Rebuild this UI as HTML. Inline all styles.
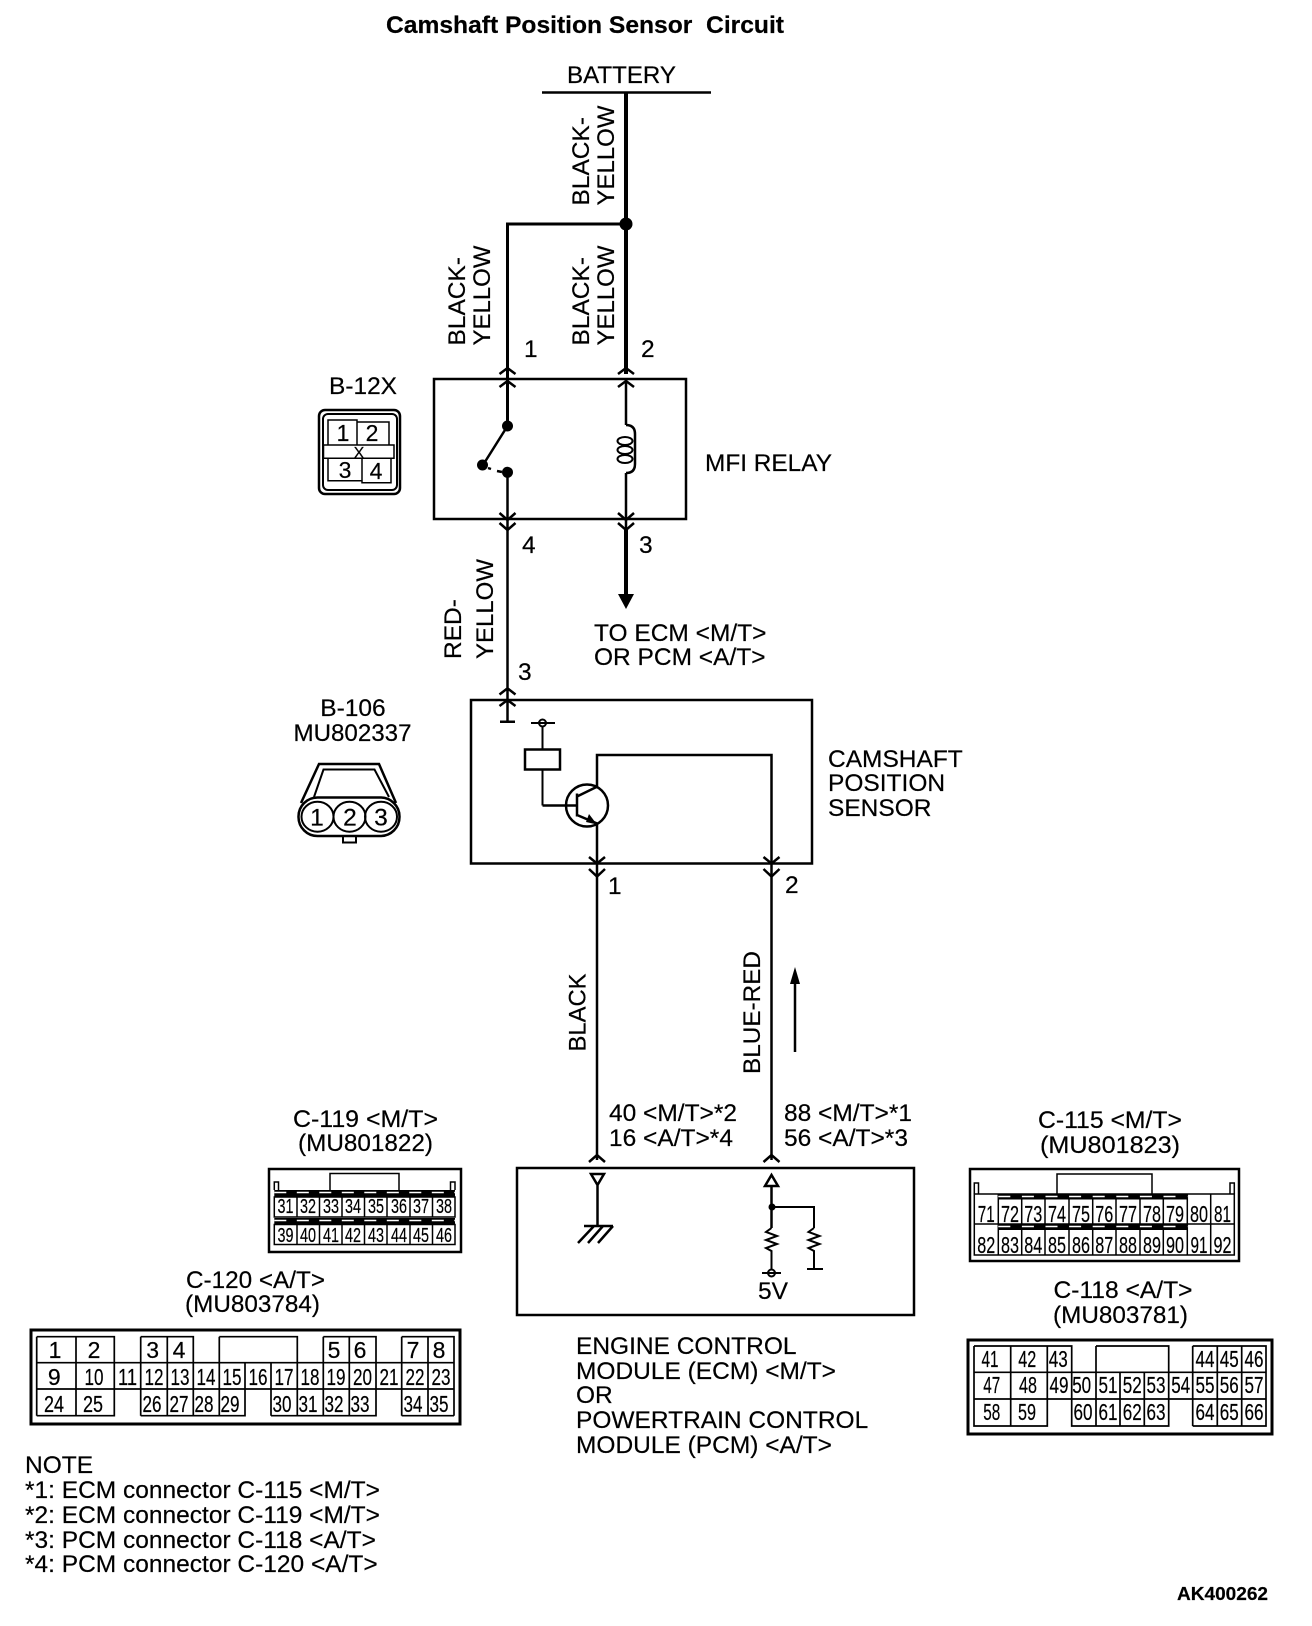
<!DOCTYPE html>
<html><head><meta charset="utf-8"><style>
html,body{margin:0;padding:0;background:#fff}
svg{display:block}
text{font-family:"Liberation Sans",sans-serif;font-size:24.5px;fill:#000;stroke:#000;stroke-width:.2}
.n text,text.m{text-anchor:middle}
.a text{font-size:23px}
.b text{font-size:23px}
.c text{font-size:20px}
.l{fill:none;stroke:#000;stroke-width:2.5}
.t{fill:none;stroke:#000;stroke-width:1.5}
.h{fill:none;stroke:#000;stroke-width:4}
</style></head><body>
<svg width="1312" height="1626" viewBox="0 0 1312 1626" xmlns="http://www.w3.org/2000/svg">
<rect width="1312" height="1626" fill="#fff"/>
<text x="386" y="33" style="font-weight:bold" textLength="398" lengthAdjust="spacingAndGlyphs" xml:space="preserve">Camshaft Position Sensor  Circuit</text>
<text x="567" y="83" textLength="109" lengthAdjust="spacingAndGlyphs">BATTERY</text>
<path class="l" d="M542 92.5H711"/>
<path class="h" d="M626 92V374"/>
<path class="l" style="stroke-width:3" d="M626 224H507.500V426"/>
<circle cx="626" cy="224" r="6.500"/>
<text transform="translate(589,205.500) rotate(-90)">BLACK-</text>
<text transform="translate(614,205.500) rotate(-90)" textLength="100" lengthAdjust="spacingAndGlyphs">YELLOW</text>
<text transform="translate(589,345.500) rotate(-90)">BLACK-</text>
<text transform="translate(614,345.500) rotate(-90)" textLength="100" lengthAdjust="spacingAndGlyphs">YELLOW</text>
<text transform="translate(465,345.500) rotate(-90)">BLACK-</text>
<text transform="translate(490,345.500) rotate(-90)" textLength="100" lengthAdjust="spacingAndGlyphs">YELLOW</text>
<text x="524" y="357">1</text><text x="641" y="357">2</text>
<!-- relay -->
<rect class="l" x="434" y="379" width="252" height="140"/>
<path class="l" d="M499.500 374L507.500 368L515.500 374M499.500 387L507.500 381L515.500 387M618 374L626 368L634 374M618 387L626 381L634 387"/>
<path class="l" d="M499.500 513L507.500 520L515.500 513M499.500 523L507.500 530L515.500 523M618 513L626 520L634 513M618 523L626 530L634 523"/>
<path class="l" d="M507.500 472V600M507.500 426L483 465"/>
<path class="l" d="M626 379V425M626 473V530"/>
<circle cx="507.500" cy="426" r="5.500"/><circle cx="507.500" cy="472.300" r="5.500"/><circle cx="482.500" cy="465" r="5.500"/>
<path class="l" d="M488 468L491 469M497 471L502 472"/>
<path class="l" d="M626 425C632 425 635 428 635 434V464C635 470 632 473 626 473"/>
<ellipse class="t" style="stroke-width:2" cx="625" cy="441" rx="7.500" ry="4"/>
<ellipse class="t" style="stroke-width:2" cx="625" cy="450" rx="7.500" ry="4"/>
<ellipse class="t" style="stroke-width:2" cx="625" cy="459" rx="7.500" ry="4"/>
<text x="705" y="471" textLength="127" lengthAdjust="spacingAndGlyphs">MFI RELAY</text>
<text x="522" y="553">4</text><text x="639" y="553">3</text>
<path class="h" d="M626 530V596"/>
<path d="M618 594H634L626 609Z"/>
<text x="594" y="641">TO ECM &lt;M/T&gt;</text><text x="594" y="665">OR PCM &lt;A/T&gt;</text>
<!-- B-12X -->
<text x="329" y="394" textLength="68" lengthAdjust="spacingAndGlyphs">B-12X</text>
<rect class="l" x="319" y="410" width="81" height="84" rx="6"/>
<rect class="l" style="stroke-width:2" x="323" y="414" width="74" height="76" rx="5"/>
<path class="t" d="M328 420H357V445H328ZM357 422H389V445H357ZM323.500 445H394V458.300H323.500ZM328 458.300H362V480.700H328ZM362 458.300H391V482.700H362Z"/>
<g class="n"><text x="343" y="441" style="font-size:23px">1</text><text x="372" y="441" style="font-size:23px">2</text><text x="359" y="458" style="font-size:16px">X</text><text x="345" y="478" style="font-size:23px">3</text><text x="376" y="479" style="font-size:23px">4</text></g>
<!-- red yellow -->
<text transform="translate(461,659) rotate(-90)">RED-</text>
<text transform="translate(493,659) rotate(-90)" textLength="100" lengthAdjust="spacingAndGlyphs">YELLOW</text>
<text x="518" y="680">3</text>
<!-- sensor -->
<rect class="l" x="471" y="700" width="341" height="163.500"/>
<path class="l" d="M499.500 694.500L507.500 688.300L515.500 694.500M499.500 706L507.500 700L515.500 706M507.500 600V721.700M500 721.700H515"/>
<circle class="l" style="stroke-width:2" cx="542.500" cy="723" r="3.500"/>
<path class="l" style="stroke-width:2" d="M531 723H555M542.500 727V749M542.500 769V805.500"/>
<rect class="l" x="525" y="749.500" width="35" height="20"/>
<path class="l" d="M542.500 805.500H577M577 793.500V816.500M577 796.500L597 786.700V755H771.500V1160M577 815L597 823.500V1160"/>
<path d="M597 824.500L586 822L589 814Z"/>
<circle class="l" cx="587" cy="805.500" r="21"/>
<path class="l" d="M589 857L597 863.500L605 857M589 869L597 876.500L605 869M763.500 857L771.500 863.500L779.500 857M763.500 869L771.500 876.500L779.500 869"/>
<text x="828" y="767">CAMSHAFT</text><text x="828" y="791">POSITION</text><text x="828" y="816">SENSOR</text>
<text x="608" y="894">1</text><text x="785" y="893">2</text>
<!-- B-106 -->
<g class="n"><text x="353" y="716">B-106</text><text x="352.500" y="741" textLength="118" lengthAdjust="spacingAndGlyphs">MU802337</text></g>
<path class="l" d="M301 803L319 764H379L396 803"/>
<path class="l" style="stroke-width:2" d="M314 797L323.500 769.500H374.500L389 797"/>
<rect class="l" x="298.500" y="797.500" width="101" height="38.500" rx="19"/>
<ellipse class="l" style="stroke-width:2" cx="317.500" cy="816.700" rx="16" ry="15"/>
<ellipse class="l" style="stroke-width:2" cx="349.500" cy="816.700" rx="16" ry="15"/>
<ellipse class="l" style="stroke-width:2" cx="381" cy="816.700" rx="16" ry="15"/>
<rect class="t" style="stroke-width:2" x="343" y="836" width="13" height="6.500"/>
<g class="n"><text x="317" y="825.500">1</text><text x="350" y="825.500">2</text><text x="381" y="825.500">3</text></g>
<!-- wires labels -->
<text transform="translate(585.500,1051.500) rotate(-90)" textLength="78" lengthAdjust="spacingAndGlyphs">BLACK</text>
<text transform="translate(760,1074) rotate(-90)" textLength="123" lengthAdjust="spacingAndGlyphs">BLUE-RED</text>
<path class="l" d="M795 975V1052"/><path d="M795 967L800 984H790Z"/>
<text x="609" y="1121">40 &lt;M/T&gt;*2</text><text x="609" y="1146">16 &lt;A/T&gt;*4</text>
<text x="784" y="1121">88 &lt;M/T&gt;*1</text><text x="784" y="1146">56 &lt;A/T&gt;*3</text>
<path class="l" d="M589 1162L597 1155L605 1162M763.500 1162L771.500 1155L779.500 1162"/>
<!-- ECM -->
<rect class="l" x="517" y="1168" width="397" height="147"/>
<path class="l" d="M591 1174H604L597.500 1185ZM597.500 1185V1225M584 1226H613M594 1226L578 1243M603 1226L588 1243M613 1226L598 1243"/>
<path class="l" d="M765 1186H778L771.500 1175ZM771.500 1186V1228"/>
<path class="l" style="stroke-width:2" d="M772 1207H814V1228"/>
<circle cx="772" cy="1207" r="3.500"/>
<path class="l" style="stroke-width:2" d="M771.500 1228L766 1232L777 1236L766 1240L777 1244L766 1248L771.500 1251V1270M814 1228L808.500 1232L819.500 1236L808.500 1240L819.500 1244L808.500 1248L814 1251V1268M807 1269H823M762 1273H781"/>
<circle class="t" cx="771.500" cy="1273" r="3.500" style="stroke-width:2"/>
<text class="m" x="773" y="1299">5V</text>
<g><text x="576" y="1354">ENGINE CONTROL</text><text x="576" y="1379">MODULE (ECM) &lt;M/T&gt;</text><text x="576" y="1403">OR</text><text x="576" y="1428">POWERTRAIN CONTROL</text><text x="576" y="1453">MODULE (PCM) &lt;A/T&gt;</text></g>
<!-- C-119 -->
<g class="n"><text x="365.500" y="1127" textLength="145" lengthAdjust="spacingAndGlyphs">C-119 &lt;M/T&gt;</text><text x="365.500" y="1151" textLength="135" lengthAdjust="spacingAndGlyphs">(MU801822)</text></g>
<rect class="l" x="269" y="1169" width="192" height="83"/>
<path class="t" d="M330 1190V1173.500H399V1190M274.300 1190V1182H278.500V1190M450.500 1190V1182H455V1190"/>
<path d="M274.300 1190H455V1197H274.300ZM274.300 1218H455V1224.500H274.300Z"/>
<path d="M274.300 1192.500H455M274.300 1220.500H455" stroke="#fff" stroke-width="1.500" stroke-dasharray="12 10.500"/>
<path class="t" d="M274.300 1197H455V1217H274.300ZM274.300 1224.500H455V1244.500H274.300ZM297 1197V1217M319.500 1197V1217M342 1197V1217M364.500 1197V1217M387 1197V1217M410 1197V1217M432.500 1197V1217M297 1224.500V1244.500M319.500 1224.500V1244.500M342 1224.500V1244.500M364.500 1224.500V1244.500M387 1224.500V1244.500M410 1224.500V1244.500M432.500 1224.500V1244.500"/>
<g class="n c">
<text x="285.500" y="1213" textLength="16" lengthAdjust="spacingAndGlyphs">31</text><text x="308" y="1213" textLength="16" lengthAdjust="spacingAndGlyphs">32</text><text x="331" y="1213" textLength="16" lengthAdjust="spacingAndGlyphs">33</text><text x="353" y="1213" textLength="16" lengthAdjust="spacingAndGlyphs">34</text><text x="376" y="1213" textLength="16" lengthAdjust="spacingAndGlyphs">35</text><text x="399" y="1213" textLength="16" lengthAdjust="spacingAndGlyphs">36</text><text x="421" y="1213" textLength="16" lengthAdjust="spacingAndGlyphs">37</text><text x="444" y="1213" textLength="16" lengthAdjust="spacingAndGlyphs">38</text>
<text x="285.500" y="1242" textLength="16" lengthAdjust="spacingAndGlyphs">39</text><text x="308" y="1242" textLength="16" lengthAdjust="spacingAndGlyphs">40</text><text x="331" y="1242" textLength="16" lengthAdjust="spacingAndGlyphs">41</text><text x="353" y="1242" textLength="16" lengthAdjust="spacingAndGlyphs">42</text><text x="376" y="1242" textLength="16" lengthAdjust="spacingAndGlyphs">43</text><text x="399" y="1242" textLength="16" lengthAdjust="spacingAndGlyphs">44</text><text x="421" y="1242" textLength="16" lengthAdjust="spacingAndGlyphs">45</text><text x="444" y="1242" textLength="16" lengthAdjust="spacingAndGlyphs">46</text>
</g>
<!-- C-120 -->
<g class="n"><text x="255.500" y="1288" textLength="139" lengthAdjust="spacingAndGlyphs">C-120 &lt;A/T&gt;</text><text x="252.500" y="1312" textLength="135" lengthAdjust="spacingAndGlyphs">(MU803784)</text></g>
<rect class="l" style="stroke-width:3" x="31" y="1330" width="429" height="94"/>
<path class="t" style="stroke-width:1.700" d="M36.700 1336.700H114.300V1362.700M140.700 1336.700H193.300V1362.700M219.300 1336.700H297.300V1362.700M323.300 1336.700H376V1362.700M401.700 1336.700H454V1415.700M36.700 1336.700V1415.700M76 1336.700V1415.700M140.700 1336.700V1415.700M167.300 1336.700V1415.700M219.300 1336.700V1415.700M323.300 1336.700V1415.700M349.300 1336.700V1415.700M401.700 1336.700V1415.700M428 1336.700V1415.700M36.700 1362.700H454M36.700 1389H454M36.700 1415.700H114.300V1389M140.700 1415.700H245V1362.700M271 1415.700H376V1362.700M401.700 1415.700H454M114.300 1362.700V1389M193.300 1362.700V1415.700M297.300 1362.700V1415.700M271 1362.700V1415.700M376 1362.700V1415.700"/>
<g class="n a">
<text x="55" y="1358">1</text><text x="94" y="1358">2</text><text x="152.700" y="1358">3</text><text x="179" y="1358">4</text><text x="334" y="1358">5</text><text x="360" y="1358">6</text><text x="413" y="1358">7</text><text x="439" y="1358">8</text>
<text x="54.300" y="1385">9</text><text x="94" y="1385" textLength="19" lengthAdjust="spacingAndGlyphs">10</text><text x="127.500" y="1385" textLength="19" lengthAdjust="spacingAndGlyphs">11</text><text x="154" y="1385" textLength="19" lengthAdjust="spacingAndGlyphs">12</text><text x="180" y="1385" textLength="19" lengthAdjust="spacingAndGlyphs">13</text><text x="206" y="1385" textLength="19" lengthAdjust="spacingAndGlyphs">14</text><text x="232" y="1385" textLength="19" lengthAdjust="spacingAndGlyphs">15</text><text x="258" y="1385" textLength="19" lengthAdjust="spacingAndGlyphs">16</text><text x="284" y="1385" textLength="19" lengthAdjust="spacingAndGlyphs">17</text><text x="310" y="1385" textLength="19" lengthAdjust="spacingAndGlyphs">18</text><text x="336" y="1385" textLength="19" lengthAdjust="spacingAndGlyphs">19</text><text x="362.500" y="1385" textLength="19" lengthAdjust="spacingAndGlyphs">20</text><text x="389" y="1385" textLength="19" lengthAdjust="spacingAndGlyphs">21</text><text x="415" y="1385" textLength="19" lengthAdjust="spacingAndGlyphs">22</text><text x="441" y="1385" textLength="19" lengthAdjust="spacingAndGlyphs">23</text>
<text x="54" y="1412" textLength="20" lengthAdjust="spacingAndGlyphs">24</text><text x="93" y="1412" textLength="20" lengthAdjust="spacingAndGlyphs">25</text><text x="152" y="1412" textLength="19" lengthAdjust="spacingAndGlyphs">26</text><text x="179" y="1412" textLength="19" lengthAdjust="spacingAndGlyphs">27</text><text x="204" y="1412" textLength="19" lengthAdjust="spacingAndGlyphs">28</text><text x="230" y="1412" textLength="19" lengthAdjust="spacingAndGlyphs">29</text><text x="282" y="1412" textLength="19" lengthAdjust="spacingAndGlyphs">30</text><text x="308" y="1412" textLength="19" lengthAdjust="spacingAndGlyphs">31</text><text x="334" y="1412" textLength="19" lengthAdjust="spacingAndGlyphs">32</text><text x="360" y="1412" textLength="19" lengthAdjust="spacingAndGlyphs">33</text><text x="413" y="1412" textLength="19" lengthAdjust="spacingAndGlyphs">34</text><text x="439" y="1412" textLength="19" lengthAdjust="spacingAndGlyphs">35</text>
</g>
<!-- C-115 -->
<g class="n"><text x="1110" y="1128" textLength="144" lengthAdjust="spacingAndGlyphs">C-115 &lt;M/T&gt;</text><text x="1110" y="1153" textLength="140" lengthAdjust="spacingAndGlyphs">(MU801823)</text></g>
<rect class="l" x="970" y="1169" width="269" height="92"/>
<path class="t" d="M1057 1194V1174H1152V1194M974.300 1194V1183H978.500V1194M1230 1194V1183H1234.300V1194"/>
<path class="t" d="M974.300 1194H1234.300V1255H974.300ZM974.300 1224H1234.300M998.300 1194V1255M1021.700 1199V1224M1021.700 1230V1255M1045 1199V1224M1045 1230V1255M1069 1199V1224M1069 1230V1255M1092.700 1199V1224M1092.700 1230V1255M1116 1199V1224M1116 1230V1255M1140 1199V1224M1140 1230V1255M1163.300 1199V1224M1163.300 1230V1255M1187.300 1194V1255M1210.700 1194V1255"/>
<path d="M998.300 1194H1187.300V1199.500H998.300ZM998.300 1224H1187.300V1230H998.300Z"/>
<path d="M998.300 1196.500H1187.300M998.300 1226.500H1187.300" stroke="#fff" stroke-width="1.500" stroke-dasharray="12 11.600"/>
<g class="n b">
<text x="986.300" y="1222" textLength="17" lengthAdjust="spacingAndGlyphs">71</text><text x="1010" y="1222" textLength="18" lengthAdjust="spacingAndGlyphs">72</text><text x="1033.300" y="1222" textLength="18" lengthAdjust="spacingAndGlyphs">73</text><text x="1057" y="1222" textLength="18" lengthAdjust="spacingAndGlyphs">74</text><text x="1081" y="1222" textLength="18" lengthAdjust="spacingAndGlyphs">75</text><text x="1104.300" y="1222" textLength="18" lengthAdjust="spacingAndGlyphs">76</text><text x="1128" y="1222" textLength="18" lengthAdjust="spacingAndGlyphs">77</text><text x="1152" y="1222" textLength="18" lengthAdjust="spacingAndGlyphs">78</text><text x="1175" y="1222" textLength="18" lengthAdjust="spacingAndGlyphs">79</text><text x="1199" y="1222" textLength="18" lengthAdjust="spacingAndGlyphs">80</text><text x="1222.500" y="1222" textLength="17" lengthAdjust="spacingAndGlyphs">81</text>
<text x="986.300" y="1253" textLength="18" lengthAdjust="spacingAndGlyphs">82</text><text x="1010" y="1253" textLength="18" lengthAdjust="spacingAndGlyphs">83</text><text x="1033.300" y="1253" textLength="18" lengthAdjust="spacingAndGlyphs">84</text><text x="1057" y="1253" textLength="18" lengthAdjust="spacingAndGlyphs">85</text><text x="1081" y="1253" textLength="18" lengthAdjust="spacingAndGlyphs">86</text><text x="1104.300" y="1253" textLength="18" lengthAdjust="spacingAndGlyphs">87</text><text x="1128" y="1253" textLength="18" lengthAdjust="spacingAndGlyphs">88</text><text x="1152" y="1253" textLength="18" lengthAdjust="spacingAndGlyphs">89</text><text x="1175" y="1253" textLength="18" lengthAdjust="spacingAndGlyphs">90</text><text x="1199" y="1253" textLength="17" lengthAdjust="spacingAndGlyphs">91</text><text x="1222.500" y="1253" textLength="18" lengthAdjust="spacingAndGlyphs">92</text>
</g>
<!-- C-118 -->
<g class="n"><text x="1123" y="1298" textLength="139" lengthAdjust="spacingAndGlyphs">C-118 &lt;A/T&gt;</text><text x="1120.500" y="1323" textLength="135" lengthAdjust="spacingAndGlyphs">(MU803781)</text></g>
<rect class="l" style="stroke-width:3" x="968" y="1340" width="304" height="94"/>
<path class="t" style="stroke-width:1.700" d="M974 1346H1071.700V1372.300M1096 1346H1168.700V1372.300M1192.700 1346H1266V1426H1192.700M974 1346V1426H1047.300V1372.300M1010.700 1346V1426M1047.300 1346V1372.300M1096 1346V1372.300M1192.700 1346V1426M1217.300 1346V1426M1241.700 1346V1426M974 1372.300H1266M974 1399H1266M1071.700 1372.300V1426H1168.700V1372.300M1096 1372.300V1426M1120 1372.300V1426M1144.300 1372.300V1426"/>
<g class="n a">
<text x="990" y="1367" textLength="17" lengthAdjust="spacingAndGlyphs">41</text><text x="1027.300" y="1367" textLength="18" lengthAdjust="spacingAndGlyphs">42</text><text x="1058.300" y="1367" textLength="19" lengthAdjust="spacingAndGlyphs">43</text><text x="1205" y="1367" textLength="19" lengthAdjust="spacingAndGlyphs">44</text><text x="1229.300" y="1367" textLength="19" lengthAdjust="spacingAndGlyphs">45</text><text x="1254" y="1367" textLength="19" lengthAdjust="spacingAndGlyphs">46</text>
<text x="991.700" y="1393" textLength="17" lengthAdjust="spacingAndGlyphs">47</text><text x="1028" y="1393" textLength="18" lengthAdjust="spacingAndGlyphs">48</text><text x="1059" y="1393" textLength="19" lengthAdjust="spacingAndGlyphs">49</text><text x="1081.700" y="1393" textLength="19" lengthAdjust="spacingAndGlyphs">50</text><text x="1108" y="1393" textLength="19" lengthAdjust="spacingAndGlyphs">51</text><text x="1132.300" y="1393" textLength="19" lengthAdjust="spacingAndGlyphs">52</text><text x="1156" y="1393" textLength="19" lengthAdjust="spacingAndGlyphs">53</text><text x="1180.700" y="1393" textLength="19" lengthAdjust="spacingAndGlyphs">54</text><text x="1205" y="1393" textLength="19" lengthAdjust="spacingAndGlyphs">55</text><text x="1229.300" y="1393" textLength="19" lengthAdjust="spacingAndGlyphs">56</text><text x="1254" y="1393" textLength="19" lengthAdjust="spacingAndGlyphs">57</text>
<text x="991.700" y="1420" textLength="17" lengthAdjust="spacingAndGlyphs">58</text><text x="1027" y="1420" textLength="18" lengthAdjust="spacingAndGlyphs">59</text><text x="1083" y="1420" textLength="19" lengthAdjust="spacingAndGlyphs">60</text><text x="1108" y="1420" textLength="19" lengthAdjust="spacingAndGlyphs">61</text><text x="1132.300" y="1420" textLength="19" lengthAdjust="spacingAndGlyphs">62</text><text x="1156" y="1420" textLength="19" lengthAdjust="spacingAndGlyphs">63</text><text x="1205" y="1420" textLength="19" lengthAdjust="spacingAndGlyphs">64</text><text x="1229.300" y="1420" textLength="19" lengthAdjust="spacingAndGlyphs">65</text><text x="1254" y="1420" textLength="19" lengthAdjust="spacingAndGlyphs">66</text>
</g>
<!-- notes -->
<text x="25" y="1473">NOTE</text>
<text x="25" y="1498">*1: ECM connector C-115 &lt;M/T&gt;</text>
<text x="25" y="1523">*2: ECM connector C-119 &lt;M/T&gt;</text>
<text x="25" y="1548">*3: PCM connector C-118 &lt;A/T&gt;</text>
<text x="25" y="1572">*4: PCM connector C-120 &lt;A/T&gt;</text>
<text x="1177" y="1600" style="font-weight:bold;font-size:18px" textLength="91" lengthAdjust="spacingAndGlyphs">AK400262</text>
</svg>
</body></html>
